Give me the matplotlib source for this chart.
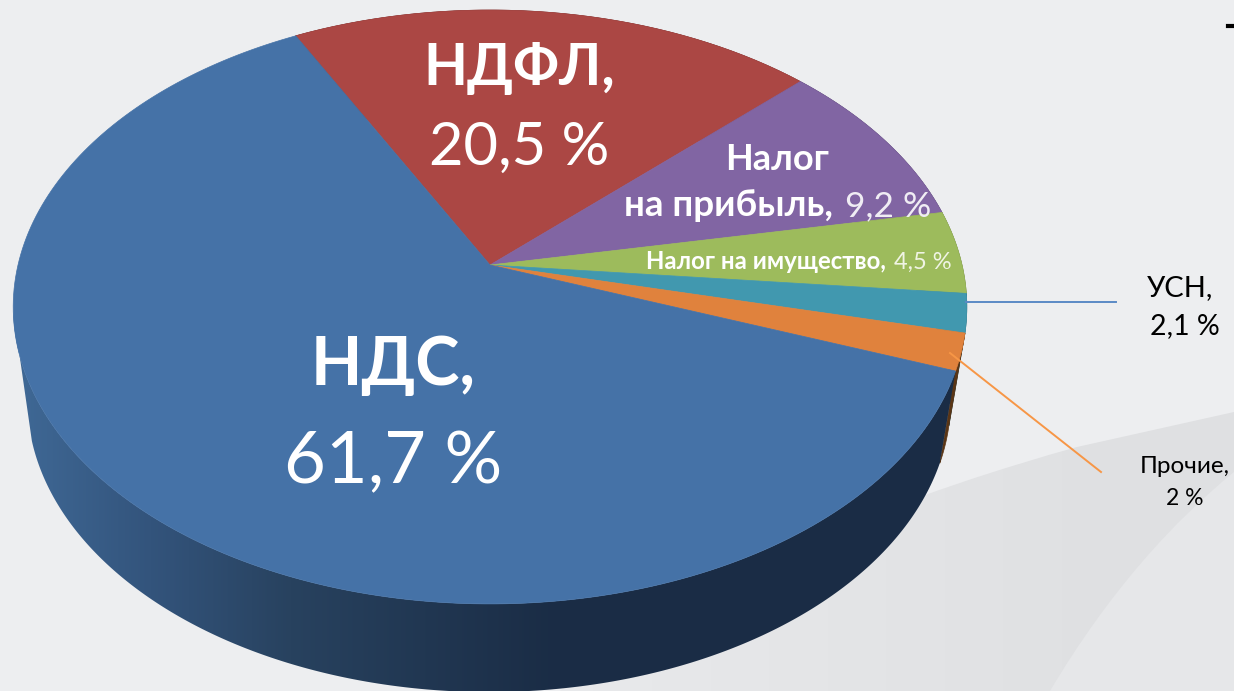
import numpy as np
import matplotlib
matplotlib.use('Agg')
import matplotlib.pyplot as plt
from matplotlib.colors import to_rgb
from matplotlib.patches import PathPatch
from matplotlib.path import Path

# shares of the pie, clockwise from the first slice
categories = ['НДФЛ', 'Налог на прибыль', 'Налог на имущество', 'УСН', 'Прочие', 'НДС']
shares = [20.5, 9.2, 4.5, 2.1, 2.0, 61.7]
top_colors = ['#ab4744', '#8165a3', '#9dbb5c', '#4198af', '#e0823d', '#4572a7']
side_colors = ['#5c2624', '#45365a', '#56682f', '#21525f', '#5a3515', '#1a2c45']

start_angle = 117.6
plt.rcParams['font.family'] = ['Lato', 'Noto Sans', 'DejaVu Sans']


def project(angle, cx, cy, a, b, k=0.1414):
    # unit circle seen in perspective
    u = np.cos(np.radians(angle))
    v = np.sin(np.radians(angle))
    w = 1 + k * v
    return cx + a * u / w, cy - b * v / w


def top(angle):
    return project(angle, 490, 265, 472, 291)


def bottom(angle):
    return project(angle, 489, 359, 457, 286)


def gradient(xs, colors):
    # horizontal colour ramp, one pixel per column
    rgb = np.array([to_rgb(c) for c in colors])
    cols = np.arange(1234)
    return np.stack([np.interp(cols, xs, rgb[:, j]) for j in range(3)], axis=-1)[None, :, :]


fig = plt.figure(figsize=(12.34, 6.91), dpi=100, facecolor='#edeef0')
ax = fig.add_axes([0, 0, 1, 1])
ax.set_xlim(0, 1234)
ax.set_ylim(691, 0)
ax.axis('off')

# grey swoosh in the background
swoosh = Path([(560, 691), (720, 560), (930, 488), (1077, 447), (1234, 412), (1234, 691), (560, 691)],
              [Path.MOVETO, Path.CURVE4, Path.CURVE4, Path.LINETO, Path.LINETO, Path.LINETO, Path.CLOSEPOLY])
im = ax.imshow(gradient([300, 1120, 1234], ['#edeef0', '#dfe0e2', '#dfe0e2']),
               extent=(0, 1234, 691, 0), aspect='auto', zorder=1)
im.set_clip_path(PathPatch(swoosh, transform=ax.transData))
inner = Path([(1050, 691), (1110, 590), (1175, 520), (1234, 472), (1234, 691), (1050, 691)],
             [Path.MOVETO, Path.CURVE4, Path.CURVE4, Path.CURVE4, Path.LINETO, Path.CLOSEPOLY])
ax.add_patch(PathPatch(inner, facecolor='#e6e7e9', edgecolor='none', zorder=1.5))

# slice limits from the shares
edges = start_angle - np.cumsum([0] + shares) * 3.6

# side wall of the small slices
for i in range(len(shares) - 1):
    angles = np.linspace(edges[i], edges[i + 1], 40)
    xt, yt = top(angles)
    xb, yb = bottom(angles[::-1])
    ax.fill(np.r_[xt, xb], np.r_[yt, yb], color=side_colors[i], lw=0.5, zorder=2)

# side wall of the big slice, left to right gradient clipped to the rim
# the two arcs stop at different angles so the left edge runs along the tangent
xt, yt = top(np.linspace(edges[5], -171, 300))
xb, yb = bottom(np.linspace(-164, edges[5], 300))
wall = Path(np.column_stack([np.r_[xt, xb, xt[0]], np.r_[yt, yb, yt[0]]]), closed=True)
wall_im = ax.imshow(gradient([20, 150, 290, 560, 1000], ['#3f6895', '#33547c', '#28425f', '#1a2c45', '#1a2c45']),
                    extent=(0, 1234, 691, 0), aspect='auto', zorder=2.1)
wall_im.set_clip_path(PathPatch(wall, transform=ax.transData))

# top face
for i in range(len(shares)):
    angles = np.linspace(edges[i], edges[i + 1], 200)
    xs, ys = top(angles)
    ax.fill(np.r_[490, xs], np.r_[265, ys], color=top_colors[i], lw=0.5, zorder=3)

# leader lines
ax.plot([966, 1116], [302, 302], color='#5b8ac5', lw=1.4, zorder=4)
ax.plot([950, 1101], [353, 472], color='#f79646', lw=1.4, zorder=4)

# labels
labels = [
    (519, 85, 'НДФЛ,', 'white', 41, 'bold'),
    (519, 165, '20,5 %', 'white', 43, 'normal'),
    (393, 385, 'НДС,', 'white', 48, 'bold'),
    (393, 483, '61,7 %', 'white', 52, 'normal'),
    (777, 170, 'Налог', 'white', 26, 'bold'),
    (729, 216, 'на прибыль,', 'white', 26.5, 'bold'),
    (888, 216, '9,2 %', '#f0edf4', 25.5, 'normal'),
    (766, 269, 'Налог на имущество,', 'white', 17.3, 'bold'),
    (923, 269, '4,5 %', '#f0f4e4', 17, 'normal'),
    (1180, 296, 'УСН,', 'black', 21, 'normal'),
    (1185, 334, '2,1 %', 'black', 20.5, 'normal'),
    (1185, 473, 'Прочие,', 'black', 17.5, 'normal'),
    (1185, 505, '2 %', 'black', 16.5, 'normal'),
]
for x, y, s, c, size, weight in labels:
    ax.text(x, y, s, color=c, fontsize=size, fontweight=weight, ha='center', va='baseline', zorder=5)

# bit of cropped text in the corner
ax.plot([1228, 1234], [26, 26], color='black', lw=3, zorder=5)

fig.savefig('out.png', dpi=100, facecolor=fig.get_facecolor())
